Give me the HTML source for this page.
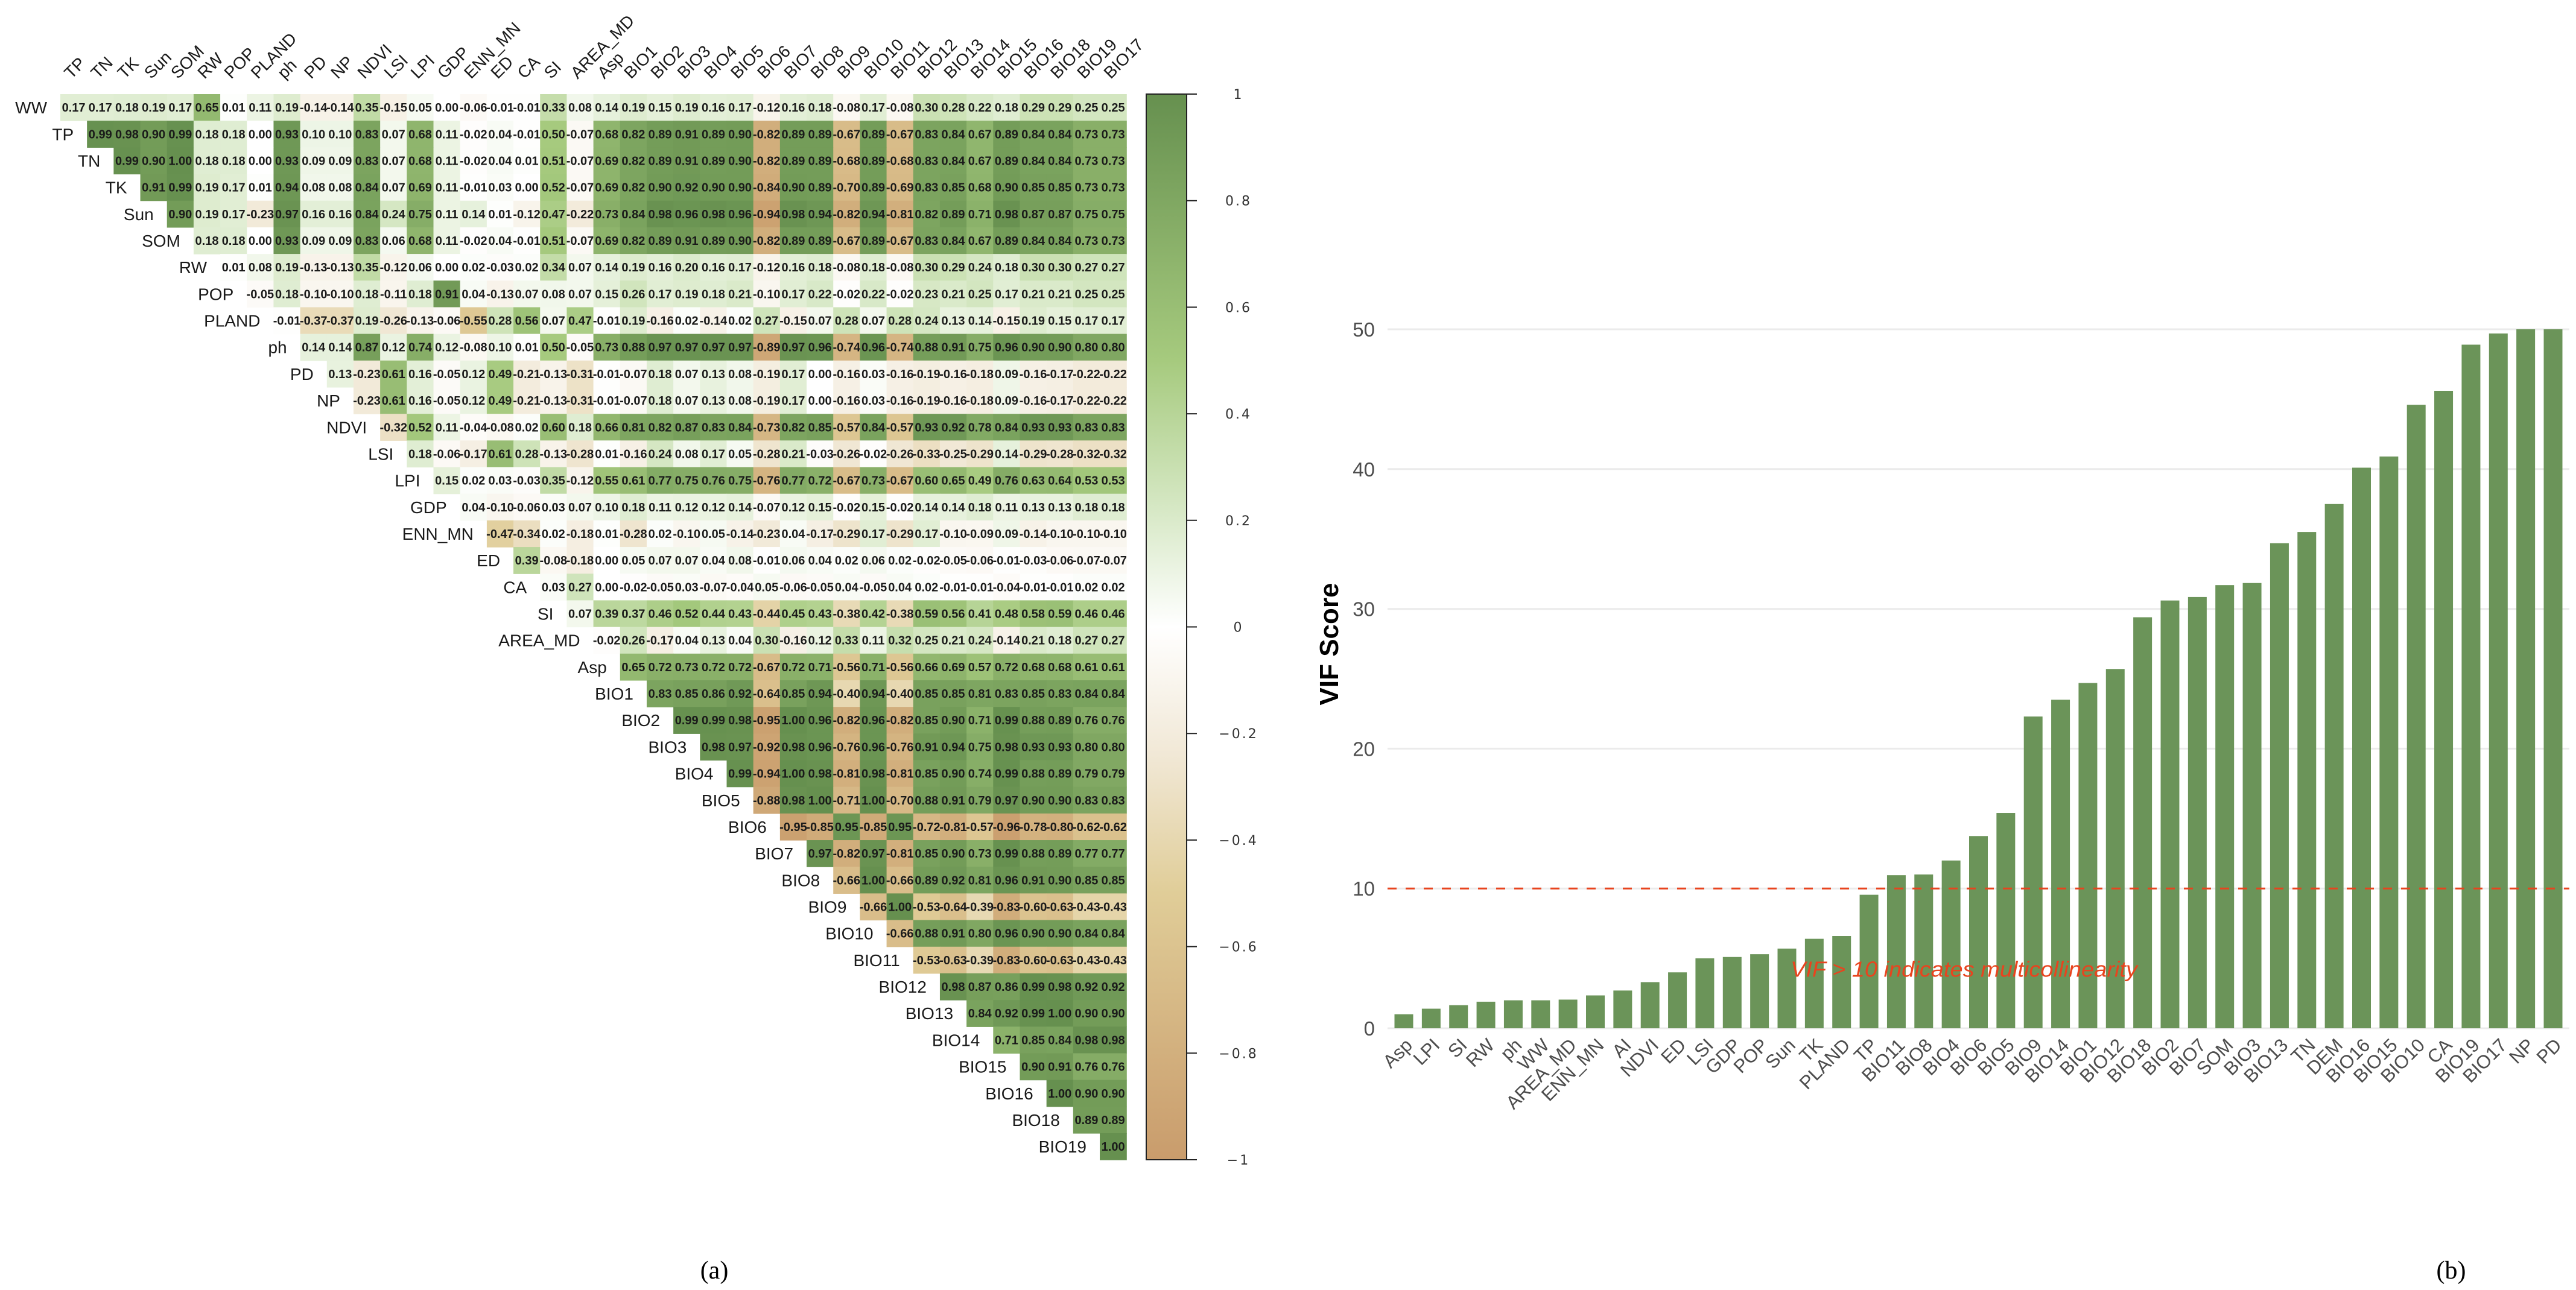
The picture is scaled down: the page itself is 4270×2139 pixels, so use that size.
<!DOCTYPE html>
<html>
<head>
<meta charset="utf-8">
<style>
  html, body { margin: 0; padding: 0; background: #ffffff; }
  body { width: 4270px; height: 2139px; overflow: hidden; }
  svg { display: block; }
  .num { font-family: "Liberation Sans Narrow", "Liberation Sans", sans-serif; font-weight: bold; font-size: 20px; fill: #1a1a1a; }
  .hlab { font-family: "Liberation Sans", sans-serif; font-size: 28px; fill: #1a1a1a; }
  .cbl { font-family: "DejaVu Sans", "Liberation Sans", sans-serif; font-size: 22px; fill: #333; letter-spacing: 3px; }
  .tick { font-family: "Liberation Sans", sans-serif; font-size: 33px; fill: #4d4d4d; }
  .xl { font-family: "Liberation Sans", sans-serif; font-size: 31px; fill: #4d4d4d; }
  .cap { font-family: "Liberation Serif", serif; font-size: 42px; fill: #000; }
</style>
</head>
<body>
<svg id="fig" width="4270" height="2139" viewBox="0 0 4270 2139" xmlns="http://www.w3.org/2000/svg">
  <defs>
    <linearGradient id="cbgrad" x1="0" y1="0" x2="0" y2="1">
      <stop offset="0" stop-color="#66904f"/>
      <stop offset="0.25" stop-color="#a6ca7e"/>
      <stop offset="0.38" stop-color="#d3e6c0"/>
      <stop offset="0.5" stop-color="#ffffff"/>
      <stop offset="0.62" stop-color="#f1e8d6"/>
      <stop offset="0.75" stop-color="#e0cd98"/>
      <stop offset="1" stop-color="#c99c6c"/>
    </linearGradient>
    <clipPath id="plotclip"><rect x="2290" y="546" width="1980" height="1200"/></clipPath>
  </defs>
  <g id="heatmap"></g>
  <g id="colorbar">
    <rect x="1900" y="156" width="67" height="1767" fill="url(#cbgrad)" stroke="#222" stroke-width="2"/>
  </g>
  <g id="vif"></g>
  <text class="cap" x="1184" y="2120" text-anchor="middle">(a)</text>
  <text class="cap" x="4063" y="2120" text-anchor="middle">(b)</text>
</svg>
<script>
const colLabels = ["TP","TN","TK","Sun","SOM","RW","POP","PLAND","ph","PD","NP","NDVI","LSI","LPI","GDP","ENN_MN","ED","CA","SI","AREA_MD","Asp","BIO1","BIO2","BIO3","BIO4","BIO5","BIO6","BIO7","BIO8","BIO9","BIO10","BIO11","BIO12","BIO13","BIO14","BIO15","BIO16","BIO18","BIO19","BIO17"];
const rowLabels = ["WW","TP","TN","TK","Sun","SOM","RW","POP","PLAND","ph","PD","NP","NDVI","LSI","LPI","GDP","ENN_MN","ED","CA","SI","AREA_MD","Asp","BIO1","BIO2","BIO3","BIO4","BIO5","BIO6","BIO7","BIO8","BIO9","BIO10","BIO11","BIO12","BIO13","BIO14","BIO15","BIO16","BIO18","BIO19"];
const corrRows = [
[0.17,0.17,0.18,0.19,0.17,0.65,0.01,0.11,0.19,-0.14,-0.14,0.35,-0.15,0.05,0.00,-0.06,-0.01,-0.01,0.33,0.08,0.14,0.19,0.15,0.19,0.16,0.17,-0.12,0.16,0.18,-0.08,0.17,-0.08,0.30,0.28,0.22,0.18,0.29,0.29,0.25,0.25],
[0.99,0.98,0.90,0.99,0.18,0.18,0.00,0.93,0.10,0.10,0.83,0.07,0.68,0.11,-0.02,0.04,-0.01,0.50,-0.07,0.68,0.82,0.89,0.91,0.89,0.90,-0.82,0.89,0.89,-0.67,0.89,-0.67,0.83,0.84,0.67,0.89,0.84,0.84,0.73,0.73],
[0.99,0.90,1.00,0.18,0.18,0.00,0.93,0.09,0.09,0.83,0.07,0.68,0.11,-0.02,0.04,0.01,0.51,-0.07,0.69,0.82,0.89,0.91,0.89,0.90,-0.82,0.89,0.89,-0.68,0.89,-0.68,0.83,0.84,0.67,0.89,0.84,0.84,0.73,0.73],
[0.91,0.99,0.19,0.17,0.01,0.94,0.08,0.08,0.84,0.07,0.69,0.11,-0.01,0.03,0.00,0.52,-0.07,0.69,0.82,0.90,0.92,0.90,0.90,-0.84,0.90,0.89,-0.70,0.89,-0.69,0.83,0.85,0.68,0.90,0.85,0.85,0.73,0.73],
[0.90,0.19,0.17,-0.23,0.97,0.16,0.16,0.84,0.24,0.75,0.11,0.14,0.01,-0.12,0.47,-0.22,0.73,0.84,0.98,0.96,0.98,0.96,-0.94,0.98,0.94,-0.82,0.94,-0.81,0.82,0.89,0.71,0.98,0.87,0.87,0.75,0.75],
[0.18,0.18,0.00,0.93,0.09,0.09,0.83,0.06,0.68,0.11,-0.02,0.04,-0.01,0.51,-0.07,0.69,0.82,0.89,0.91,0.89,0.90,-0.82,0.89,0.89,-0.67,0.89,-0.67,0.83,0.84,0.67,0.89,0.84,0.84,0.73,0.73],
[0.01,0.08,0.19,-0.13,-0.13,0.35,-0.12,0.06,0.00,0.02,-0.03,0.02,0.34,0.07,0.14,0.19,0.16,0.20,0.16,0.17,-0.12,0.16,0.18,-0.08,0.18,-0.08,0.30,0.29,0.24,0.18,0.30,0.30,0.27,0.27],
[-0.05,0.18,-0.10,-0.10,0.18,-0.11,0.18,0.91,0.04,-0.13,0.07,0.08,0.07,0.15,0.26,0.17,0.19,0.18,0.21,-0.10,0.17,0.22,-0.02,0.22,-0.02,0.23,0.21,0.25,0.17,0.21,0.21,0.25,0.25],
[-0.01,-0.37,-0.37,0.19,-0.26,-0.13,-0.06,-0.55,0.28,0.56,0.07,0.47,-0.01,0.19,-0.16,0.02,-0.14,0.02,0.27,-0.15,0.07,0.28,0.07,0.28,0.24,0.13,0.14,-0.15,0.19,0.15,0.17,0.17],
[0.14,0.14,0.87,0.12,0.74,0.12,-0.08,0.10,0.01,0.50,-0.05,0.73,0.88,0.97,0.97,0.97,0.97,-0.89,0.97,0.96,-0.74,0.96,-0.74,0.88,0.91,0.75,0.96,0.90,0.90,0.80,0.80],
[0.13,-0.23,0.61,0.16,-0.05,0.12,0.49,-0.21,-0.13,-0.31,-0.01,-0.07,0.18,0.07,0.13,0.08,-0.19,0.17,0.00,-0.16,0.03,-0.16,-0.19,-0.16,-0.18,0.09,-0.16,-0.17,-0.22,-0.22],
[-0.23,0.61,0.16,-0.05,0.12,0.49,-0.21,-0.13,-0.31,-0.01,-0.07,0.18,0.07,0.13,0.08,-0.19,0.17,0.00,-0.16,0.03,-0.16,-0.19,-0.16,-0.18,0.09,-0.16,-0.17,-0.22,-0.22],
[-0.32,0.52,0.11,-0.04,-0.08,0.02,0.60,0.18,0.66,0.81,0.82,0.87,0.83,0.84,-0.73,0.82,0.85,-0.57,0.84,-0.57,0.93,0.92,0.78,0.84,0.93,0.93,0.83,0.83],
[0.18,-0.06,-0.17,0.61,0.28,-0.13,-0.28,0.01,-0.16,0.24,0.08,0.17,0.05,-0.28,0.21,-0.03,-0.26,-0.02,-0.26,-0.33,-0.25,-0.29,0.14,-0.29,-0.28,-0.32,-0.32],
[0.15,0.02,0.03,-0.03,0.35,-0.12,0.55,0.61,0.77,0.75,0.76,0.75,-0.76,0.77,0.72,-0.67,0.73,-0.67,0.60,0.65,0.49,0.76,0.63,0.64,0.53,0.53],
[0.04,-0.10,-0.06,0.03,0.07,0.10,0.18,0.11,0.12,0.12,0.14,-0.07,0.12,0.15,-0.02,0.15,-0.02,0.14,0.14,0.18,0.11,0.13,0.13,0.18,0.18],
[-0.47,-0.34,0.02,-0.18,0.01,-0.28,0.02,-0.10,0.05,-0.14,-0.23,0.04,-0.17,-0.29,0.17,-0.29,0.17,-0.10,-0.09,0.09,-0.14,-0.10,-0.10,-0.10],
[0.39,-0.08,-0.18,0.00,0.05,0.07,0.07,0.04,0.08,-0.01,0.06,0.04,0.02,0.06,0.02,-0.02,-0.05,-0.06,-0.01,-0.03,-0.06,-0.07,-0.07],
[0.03,0.27,0.00,-0.02,-0.05,0.03,-0.07,-0.04,0.05,-0.06,-0.05,0.04,-0.05,0.04,0.02,-0.01,-0.01,-0.04,-0.01,-0.01,0.02,0.02],
[0.07,0.39,0.37,0.46,0.52,0.44,0.43,-0.44,0.45,0.43,-0.38,0.42,-0.38,0.59,0.56,0.41,0.48,0.58,0.59,0.46,0.46],
[-0.02,0.26,-0.17,0.04,0.13,0.04,0.30,-0.16,0.12,0.33,0.11,0.32,0.25,0.21,0.24,-0.14,0.21,0.18,0.27,0.27],
[0.65,0.72,0.73,0.72,0.72,-0.67,0.72,0.71,-0.56,0.71,-0.56,0.66,0.69,0.57,0.72,0.68,0.68,0.61,0.61],
[0.83,0.85,0.86,0.92,-0.64,0.85,0.94,-0.40,0.94,-0.40,0.85,0.85,0.81,0.83,0.85,0.83,0.84,0.84],
[0.99,0.99,0.98,-0.95,1.00,0.96,-0.82,0.96,-0.82,0.85,0.90,0.71,0.99,0.88,0.89,0.76,0.76],
[0.98,0.97,-0.92,0.98,0.96,-0.76,0.96,-0.76,0.91,0.94,0.75,0.98,0.93,0.93,0.80,0.80],
[0.99,-0.94,1.00,0.98,-0.81,0.98,-0.81,0.85,0.90,0.74,0.99,0.88,0.89,0.79,0.79],
[-0.88,0.98,1.00,-0.71,1.00,-0.70,0.88,0.91,0.79,0.97,0.90,0.90,0.83,0.83],
[-0.95,-0.85,0.95,-0.85,0.95,-0.72,-0.81,-0.57,-0.96,-0.78,-0.80,-0.62,-0.62],
[0.97,-0.82,0.97,-0.81,0.85,0.90,0.73,0.99,0.88,0.89,0.77,0.77],
[-0.66,1.00,-0.66,0.89,0.92,0.81,0.96,0.91,0.90,0.85,0.85],
[-0.66,1.00,-0.53,-0.64,-0.39,-0.83,-0.60,-0.63,-0.43,-0.43],
[-0.66,0.88,0.91,0.80,0.96,0.90,0.90,0.84,0.84],
[-0.53,-0.63,-0.39,-0.83,-0.60,-0.63,-0.43,-0.43],
[0.98,0.87,0.86,0.99,0.98,0.92,0.92],
[0.84,0.92,0.99,1.00,0.90,0.90],
[0.71,0.85,0.84,0.98,0.98],
[0.90,0.91,0.76,0.76],
[1.00,0.90,0.90],
[0.89,0.89],
[1.00]
];
const colorbarTicks = [1,0.8,0.6,0.4,0.2,0,-0.2,-0.4,-0.6,-0.8,-1];

const vifCategories = ["Asp","LPI","SI","RW","ph","WW","AREA_MD","ENN_MN","AI","NDVI","ED","LSI","GDP","POP","Sun","TK","PLAND","TP","BIO11","BIO8","BIO4","BIO6","BIO5","BIO9","BIO14","BIO1","BIO12","BIO18","BIO2","BIO7","SOM","BIO3","BIO13","TN","DEM","BIO16","BIO15","BIO10","CA","BIO19","BIO17","NP","PD"];
const vifValues = [1.0,1.4,1.65,1.9,2.0,2.0,2.05,2.35,2.7,3.3,4.0,5.0,5.1,5.3,5.7,6.4,6.6,9.55,10.95,11.0,12.0,13.75,15.4,22.3,23.5,24.7,25.7,29.4,30.6,30.85,31.7,31.85,34.7,35.5,37.5,40.1,40.9,44.6,45.6,48.9,49.7,53,56];
const vifTicks = [0,10,20,30,40,50];
const vifThreshold = [10];

const NS = "http://www.w3.org/2000/svg";
function mk(tag, attrs, parent) {
  const e = document.createElementNS(NS, tag);
  for (const k in attrs) e.setAttribute(k, attrs[k]);
  parent.appendChild(e);
  return e;
}
function lerp(a, b, t) { return a + (b - a) * t; }
const stops = [[-1,[201,156,108]],[-0.5,[224,205,152]],[-0.25,[241,232,214]],[0,[255,255,255]],[0.25,[211,230,192]],[0.5,[166,202,126]],[1,[102,144,79]]];
function corrColor(v) {
  for (let i = 0; i < stops.length - 1; i++) {
    const a = stops[i], b = stops[i+1];
    if (v <= b[0]) {
      const t = (v - a[0]) / (b[0] - a[0]);
      return "rgb(" + [0,1,2].map(k => Math.round(lerp(a[1][k], b[1][k], Math.max(0, Math.min(1, t))))).join(",") + ")";
    }
  }
  return "rgb(102,144,79)";
}

// ---- heatmap ----
const hm = document.getElementById("heatmap");
const X0 = 100, Y0 = 156, CS = 44.18;
function cellX(c) { return X0 + c * CS; }
function cellY(r) { return Y0 + r * CS; }
const cellsG = mk("g", {}, hm);


corrRows.forEach((row, r) => {
  row.forEach((v, k) => {
    const c = r + k;
    const rect = mk("rect", {x: cellX(c).toFixed(2), y: cellY(r).toFixed(2), width: (CS + 0.6).toFixed(2), height: (CS + 0.6).toFixed(2), fill: corrColor(v)}, cellsG);
    
    
  });
});
const numsG = mk("g", {}, hm);


corrRows.forEach((row, r) => {
  row.forEach((v, k) => {
    const c = r + k;
    const t = mk("text", {class: "num", x: (cellX(c) + CS / 2).toFixed(2), y: (cellY(r) + CS / 2 + 7).toFixed(2), "text-anchor": "middle"}, numsG);
    
    
    t.textContent = v.toFixed(2);
  });
});
rowLabels.forEach((lab, r) => {
  const t = mk("text", {class: "hlab", x: (cellX(r) - 22).toFixed(2), y: (cellY(r) + CS / 2 + 10).toFixed(2), "text-anchor": "end"}, hm);
  
  
  t.textContent = lab;
});
colLabels.forEach((lab, c) => {
  const x = cellX(c) + CS / 2 - 4, y = 132;
  const t = mk("text", {class: "hlab", x: x.toFixed(2), y: y, transform: "rotate(-45 " + x.toFixed(2) + " " + y + ")"}, hm);
  
  
  t.textContent = lab;
});

// ---- colorbar ----
const cb = document.getElementById("colorbar");
const CB_TOP = 156, CB_BOT = 1923;
function cbY(v) { return CB_TOP + (1 - v) / 2 * (CB_BOT - CB_TOP); }
colorbarTicks.forEach(v => {
  const y = cbY(v);
  const ln = mk("line", {x1: 1967, x2: 1984, y1: y.toFixed(2), y2: y.toFixed(2), stroke: "#222", "stroke-width": 2}, cb);
  
  
  const t = mk("text", {class: "cbl", x: 2053, y: (y + 8).toFixed(2), "text-anchor": "middle"}, cb);
  
  
  t.textContent = (v < 0 ? "\u2212" : "") + String(Math.abs(v));
});

// ---- VIF bar chart ----
const vg = document.getElementById("vif");
const PX0 = 2300, PX1 = 4259, BASE_Y = 1705, UNIT = 23.18;
const XC0 = 2327, XSTEP = (4232 - 2327) / 42, BW = 31;
function vy(v) { return BASE_Y - v * UNIT; }
function vx(i) { return XC0 + i * XSTEP; }
vifTicks.forEach(v => {
  const ln = mk("line", {x1: PX0, x2: PX1, y1: vy(v).toFixed(2), y2: vy(v).toFixed(2), stroke: "#ebebeb", "stroke-width": 3}, vg);
  
  
  const t = mk("text", {class: "tick", x: 2279, y: (vy(v) + 12).toFixed(2), "text-anchor": "end"}, vg);
  
  
  t.textContent = String(v);
});
const barsG = mk("g", {"clip-path": "url(#plotclip)"}, vg);


vifValues.forEach((v, i) => {
  const r = mk("rect", {x: (vx(i) - BW / 2).toFixed(2), y: vy(v).toFixed(2), width: BW, height: (v * UNIT).toFixed(2), fill: "#6b9459"}, barsG);
  
  
});
vifCategories.forEach((lab, i) => {
  const x = vx(i) + 16, y = BASE_Y + 30;
  const t = mk("text", {class: "xl", x: x.toFixed(2), y: y, "text-anchor": "end", transform: "rotate(-45 " + x.toFixed(2) + " " + y + ")"}, vg);
  
  
  t.textContent = lab;
});
vifThreshold.forEach(v => {
  const ln = mk("line", {x1: PX0, x2: PX1, y1: vy(v).toFixed(2), y2: vy(v).toFixed(2), stroke: "#e8441e", "stroke-width": 3, "stroke-dasharray": "15 15"}, vg);
  
  
});
const note = mk("text", {x: 2968, y: (vy(4.2) + 12).toFixed(2), fill: "#e8441e", "font-family": "Liberation Sans Narrow, Liberation Sans, sans-serif", "font-size": 36, "font-style": "italic", textLength: 575, lengthAdjust: "spacingAndGlyphs"}, vg);


note.textContent = "VIF > 10 indicates multicollinearity";
const yt = mk("text", {x: 2218, y: 1068, "text-anchor": "middle", "font-family": "Liberation Sans, sans-serif", "font-size": 44, "font-weight": "bold", fill: "#000", transform: "rotate(-90 2218 1068)"}, vg);


yt.textContent = "VIF Score";
</script>
</body>
</html>
